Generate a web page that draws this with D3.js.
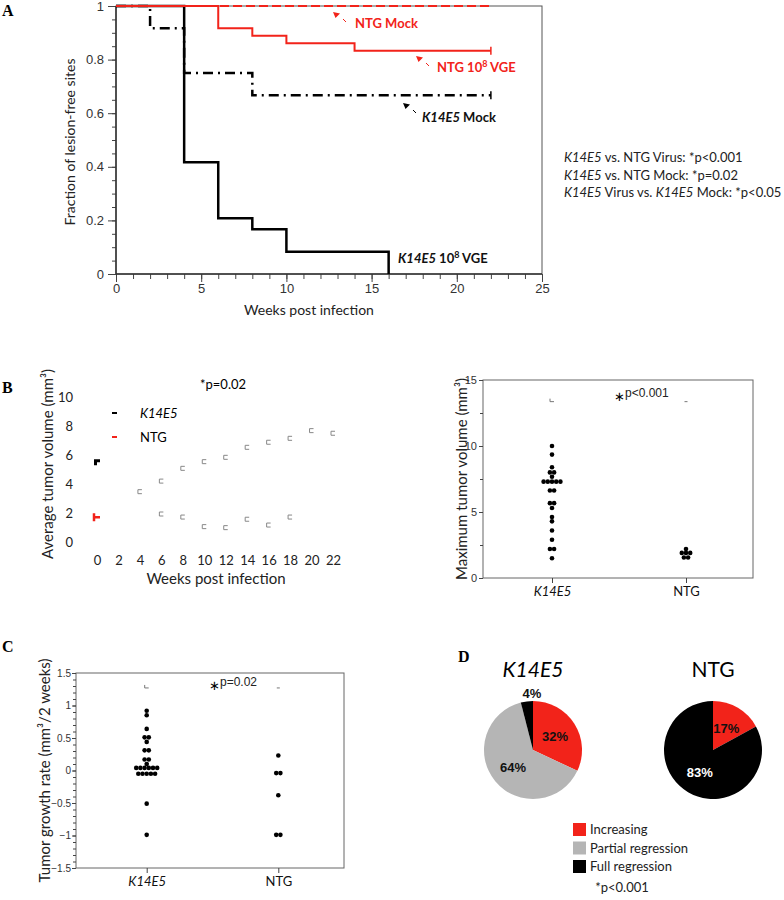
<!DOCTYPE html>
<html>
<head>
<meta charset="utf-8">
<script src="https://cdn.jsdelivr.net/npm/d3@7"></script>
<style>
  body { margin: 0; background: #fff; }
  svg { display: block; font-family: Lato, "Open Sans", sans-serif; }
</style>
</head>
<body>
<svg id="chart" width="784" height="900"></svg>
<script>
// ---- data ----
// A: Kaplan-Meier steps [week, fraction]
const k14e5VgeSteps = [[0, 1], [4, 0.417], [6, 0.208], [8, 0.167], [10, 0.083], [16, 0]];
const k14e5MockSteps = [[0, 1], [2, 0.917], [4, 0.75], [8, 0.667], [22, 0.667]];
const ntgVgeSteps = [[0, 1], [6, 0.917], [8, 0.889], [10, 0.861], [14, 0.833], [22, 0.833]];
const ntgMockSteps = [[0, 1], [22, 1]];
const weekTicksA = [0, 5, 10, 15, 20, 25];
const fracTicksA = [0, 0.2, 0.4, 0.6, 0.8, 1];

// B left: average tumour volume
const weekTicksB = [0, 2, 4, 6, 8, 10, 12, 14, 16, 18, 20, 22];
const volTicksB = [0, 2, 4, 6, 8, 10];
const k14e5AvgWeeks = [4, 6, 8, 10, 12, 14, 16, 18, 20, 22];
const k14e5AvgVol = [3.47, 4.2, 5.08, 5.54, 5.84, 6.53, 6.88, 7.15, 7.68, 7.5];
const ntgAvgWeeks = [6, 8, 10, 12, 14, 16, 18];
const ntgAvgVol = [1.93, 1.72, 1.06, 0.99, 1.57, 1.17, 1.72];
const k14e5StartVol = 5.5;
const ntgStartVol = 1.7;

// B right: maximum tumour volume
const groups = ["K14E5", "NTG"];
const maxVolK14E5 = [10.0, 9.35, 8.39, 8.0, 8.0, 7.67, 7.3, 7.3, 7.3, 7.3, 7.3, 6.63, 6.63,
  5.67, 5.67, 5.3, 4.62, 4.29, 3.6, 2.9, 2.2, 2.2, 1.5];
const maxVolNTG = [2.2, 1.9, 1.9, 1.9, 1.55, 1.55];
const maxVolRef = 13.36;

// C: tumour growth rate
const growthK14E5 = [0.92, 0.85, 0.64, 0.51, 0.51, 0.44, 0.31, 0.31, 0.17, 0.17, 0.10,
  0.04, 0.04, 0.04, 0.04, 0.04, 0.04, -0.05, -0.05, -0.05, -0.05, -0.05, -0.51, -0.99];
const growthNTG = [0.23, -0.04, -0.04, -0.38, -0.99, -0.99];
const growthRef = 1.27;

// D: outcome pies
const outcomes = ["Increasing", "Partial regression", "Full regression"];
const k14e5Outcome = [32, 64, 4];
const ntgOutcome = [17, 0, 83];

const RED = "#f2231a";
const svg = d3.select("#chart");
const tickFont = "'Liberation Sans', Arial, sans-serif";

function styleAxis(g, size) {
  g.select(".domain").remove();
  g.selectAll("line").attr("stroke", "#444");
  g.selectAll("text").attr("fill", "#333")
    .style("font-family", tickFont).style("font-size", size + "px");
}

function panelLabel(txt, x, y) {
  svg.append("text").attr("x", x).attr("y", y).text(txt)
    .style("font-family", "'Liberation Serif', serif").style("font-weight", "bold")
    .style("font-size", "16px");
}

// ================= A =================
const xA = d3.scaleLinear().domain([0, 25]).range([116, 542]);
const yA = d3.scaleLinear().domain([0, 1]).range([274, 6]);
const gA = svg.append("g");

gA.append("rect").attr("x", xA(0)).attr("y", yA(1))
  .attr("width", xA(25) - xA(0)).attr("height", yA(0) - yA(1))
  .attr("fill", "none").attr("stroke", "#555");

gA.append("g").attr("transform", `translate(${xA(0)},0)`)
  .call(d3.axisLeft(yA).tickValues(d3.range(0, 21).map(i => i / 20)).tickSize(4).tickFormat(""))
  .call(styleAxis, 13);
gA.append("g").attr("transform", `translate(${xA(0)},0)`)
  .call(d3.axisLeft(yA).tickValues(fracTicksA).tickSize(8).tickPadding(4).tickFormat(d3.format("~g")))
  .call(styleAxis, 13);
gA.append("g").attr("transform", `translate(0,${yA(0)})`)
  .call(d3.axisBottom(xA).tickValues(d3.range(0, 26)).tickSize(5).tickFormat(""))
  .call(styleAxis, 13);
gA.append("g").attr("transform", `translate(0,${yA(0)})`)
  .call(d3.axisBottom(xA).tickValues(weekTicksA).tickSize(8).tickPadding(2))
  .call(styleAxis, 13);
gA.append("line").attr("x1", xA(0)).attr("x2", xA(0)).attr("y1", yA(0)).attr("y2", yA(1))
  .attr("stroke", "#333").attr("stroke-width", 1.5);
gA.append("line").attr("x1", xA(0)).attr("x2", xA(25)).attr("y1", yA(0)).attr("y2", yA(0))
  .attr("stroke", "#333").attr("stroke-width", 1.5);

const stepLine = d3.line().x(d => xA(d[0])).y(d => yA(d[1])).curve(d3.curveStepAfter);
gA.append("path").attr("d", stepLine(k14e5MockSteps)).attr("fill", "none")
  .attr("stroke", "#000").attr("stroke-width", 2.5).attr("stroke-dasharray", "10,5,2,5");
gA.append("path").attr("d", stepLine(k14e5VgeSteps)).attr("fill", "none")
  .attr("stroke", "#000").attr("stroke-width", 2.5);
gA.append("path").attr("d", stepLine(ntgMockSteps)).attr("fill", "none")
  .attr("stroke", RED).attr("stroke-width", 2).attr("stroke-dasharray", "9,4");
gA.append("path").attr("d", stepLine(ntgVgeSteps)).attr("fill", "none")
  .attr("stroke", RED).attr("stroke-width", 2);
// censor ticks at the end of follow-up
[[ntgVgeSteps, RED], [k14e5MockSteps, "#000"]].forEach(([s, c]) => {
  const last = s[s.length - 1];
  gA.append("line").attr("x1", xA(last[0])).attr("x2", xA(last[0]))
    .attr("y1", yA(last[1]) - 4).attr("y2", yA(last[1]) + 4)
    .attr("stroke", c).attr("stroke-width", 1.5);
});

// arrows + labels
function arrow(tipX, tipY, color) {
  gA.append("path")
    .attr("d", `M${tipX},${tipY} l7,1.5 l-4.5,4.5 z`).attr("fill", color);
  gA.append("line").attr("x1", tipX + 10).attr("y1", tipY + 7).attr("x2", tipX + 13).attr("y2", tipY + 10)
    .attr("stroke", color).attr("stroke-width", 1);
}
arrow(333, 12, RED);
arrow(416, 56, RED);
arrow(403, 103, "#000");

gA.append("text").attr("x", 355).attr("y", 28).attr("fill", RED)
  .style("font-weight", "bold").style("font-size", "13px").text("NTG Mock");
const tNtg = gA.append("text").attr("x", 437).attr("y", 72).attr("fill", RED)
  .style("font-weight", "bold").style("font-size", "13px");
tNtg.append("tspan").text("NTG 10");
tNtg.append("tspan").attr("dy", -5).style("font-size", "9px").text("8");
tNtg.append("tspan").attr("dy", 5).text(" VGE");
const tMock = gA.append("text").attr("x", 422).attr("y", 122).attr("fill", "#111")
  .style("font-weight", "bold").style("font-size", "13px");
tMock.append("tspan").style("font-style", "italic").text("K14E5");
tMock.append("tspan").text(" Mock");
const tVge = gA.append("text").attr("x", 398).attr("y", 263).attr("fill", "#111")
  .style("font-weight", "bold").style("font-size", "13px");
tVge.append("tspan").style("font-style", "italic").text("K14E5");
tVge.append("tspan").text(" 10");
tVge.append("tspan").attr("dy", -5).style("font-size", "9px").text("8");
tVge.append("tspan").attr("dy", 5).text(" VGE");

gA.append("text").attr("transform", `translate(75,${(yA(0) + yA(1)) / 2 + 2}) rotate(-90)`)
  .attr("text-anchor", "middle").style("font-size", "14px").attr("fill", "#222")
  .text("Fraction of lesion-free sites");
gA.append("text").attr("x", 309).attr("y", 315).attr("text-anchor", "middle")
  .style("font-size", "14px").attr("fill", "#222").text("Weeks post infection");

const stats = [
  [["K14E5", true], [" vs. NTG Virus: *p<0.001", false]],
  [["K14E5", true], [" vs. NTG Mock: *p=0.02", false]],
  [["K14E5", true], [" Virus vs. ", false], ["K14E5", true], [" Mock: *p<0.05", false]]
];
stats.forEach((parts, i) => {
  const t = svg.append("text").attr("x", 564).attr("y", 162 + i * 17.5)
    .style("font-size", "13px").attr("fill", "#222");
  parts.forEach(p => t.append("tspan").style("font-style", p[1] ? "italic" : "normal").text(p[0]));
});
panelLabel("A", 2, 16);

// ================= B left =================
const xB = d3.scaleLinear().domain([0, 22]).range([97, 333]);
const yB = d3.scaleLinear().domain([0, 10]).range([542, 397]);
const gB = svg.append("g");
gB.append("g").attr("transform", "translate(78,0)")
  .call(d3.axisLeft(yB).tickValues(volTicksB).tickSize(0).tickPadding(5))
  .call(styleAxis, 13);
gB.append("g").attr("transform", "translate(0,553)")
  .call(d3.axisBottom(xB).tickValues(weekTicksB).tickSize(0).tickPadding(3))
  .call(styleAxis, 13);
gB.selectAll(".tick text").style("font-family", "Lato, sans-serif").attr("fill", "#222");

function bracket(g, x, y) {
  g.append("path").attr("d", `M${x + 2},${y - 2} h-4 v4 h4`)
    .attr("fill", "none").attr("stroke", "#888").attr("stroke-width", 1);
}
k14e5AvgWeeks.forEach((w, i) => bracket(gB, xB(w), yB(k14e5AvgVol[i])));
ntgAvgWeeks.forEach((w, i) => bracket(gB, xB(w), yB(ntgAvgVol[i])));

// week-0 starting means
gB.append("path")
  .attr("d", `M${xB(0) - 3},${yB(k14e5StartVol) - 3} h6 v3 h-3 v3 h-3 z`)
  .attr("fill", "#000");
gB.append("path")
  .attr("d", `M${xB(0) - 3},${yB(ntgStartVol) - 4} v8 M${xB(0) - 3},${yB(ntgStartVol)} h6`)
  .attr("fill", "none").attr("stroke", RED).attr("stroke-width", 2.5);

// legend
gB.append("line").attr("x1", 112).attr("x2", 117).attr("y1", 413).attr("y2", 413)
  .attr("stroke", "#000").attr("stroke-width", 2);
gB.append("line").attr("x1", 112).attr("x2", 117).attr("y1", 437).attr("y2", 437)
  .attr("stroke", RED).attr("stroke-width", 2);
gB.append("text").attr("x", 140).attr("y", 418).style("font-style", "italic")
  .style("font-size", "13px").text("K14E5");
gB.append("text").attr("x", 140).attr("y", 442).style("font-size", "13px").text("NTG");
gB.append("text").attr("x", 200).attr("y", 389).style("font-size", "13px").text("*p=0.02");

gB.append("text").attr("transform", "translate(53,464) rotate(-90)")
  .attr("text-anchor", "middle").style("font-size", "15px").attr("fill", "#222")
  .text("Average tumor volume (mm³)");
gB.append("text").attr("x", 216).attr("y", 584).attr("text-anchor", "middle")
  .style("font-size", "15px").attr("fill", "#222").text("Weeks post infection");
panelLabel("B", 2, 393);

// ---- beeswarm helper ----
function swarm(values, step) {
  const out = [];
  d3.group(values, v => v).forEach((arr, v) => {
    arr.forEach((_, i) => out.push({ v, dx: (i - (arr.length - 1) / 2) * step }));
  });
  return out;
}

function dotPanel(cfg) {
  const g = svg.append("g");
  const x = d3.scalePoint().domain(groups).range(cfg.xRange);
  const y = d3.scaleLinear().domain(cfg.yDomain).range(cfg.yRange);
  const [x0, x1] = cfg.box;
  g.append("rect").attr("x", x0).attr("y", cfg.yRange[1]).attr("width", x1 - x0)
    .attr("height", cfg.yRange[0] - cfg.yRange[1]).attr("fill", "none").attr("stroke", "#666");
  g.append("g").attr("transform", `translate(${x0},0)`)
    .call(d3.axisLeft(y).tickValues(cfg.minor).tickSize(3).tickFormat(""))
    .call(styleAxis, cfg.tickSize);
  g.append("g").attr("transform", `translate(${x0},0)`)
    .call(d3.axisLeft(y).tickValues(cfg.major).tickSize(4).tickPadding(cfg.pad).tickFormat(d3.format("~g")))
    .call(styleAxis, cfg.tickSize);
  const xa = g.append("g").attr("transform", `translate(0,${cfg.yRange[0]})`)
    .call(d3.axisBottom(x).tickSize(5).tickPadding(4))
    .call(styleAxis, 13);
  xa.selectAll("text").style("font-family", "Lato, sans-serif").attr("fill", "#111")
    .style("font-style", d => d === "K14E5" ? "italic" : "normal");
  cfg.series.forEach((vals, i) => {
    const cx = x(groups[i]);
    g.selectAll(null).data(swarm(vals, 4.2)).join("circle")
      .attr("cx", d => cx + d.dx).attr("cy", d => y(d.v)).attr("r", 2.3).attr("fill", "#000");
  });
  // small reference marks above each column
  const ry = y(cfg.ref);
  g.append("path").attr("d", `M${x("K14E5") - 2},${ry - 3} v3 h4`)
    .attr("fill", "none").attr("stroke", "#777");
  g.append("line").attr("x1", x("NTG") - 1.5).attr("x2", x("NTG") + 1.5).attr("y1", ry).attr("y2", ry)
    .attr("stroke", "#777");
  g.append("text").attr("x", cfg.star[0]).attr("y", cfg.star[1] + 4).style("font-size", "13px")
    .style("font-family", tickFont).text("∗");
  g.append("text").attr("x", cfg.star[0] + 11).attr("y", cfg.star[1]).style("font-size", "12px")
    .style("font-family", tickFont).attr("fill", "#222").text(cfg.pText);
  g.append("text").attr("transform", `translate(${cfg.yLabelX},${(cfg.yRange[0] + cfg.yRange[1]) / 2}) rotate(-90)`)
    .attr("text-anchor", "middle").style("font-size", "15px").attr("fill", "#222").text(cfg.yLabel);
}

// ================= B right =================
dotPanel({
  box: [483, 753], xRange: [552, 686], yDomain: [0, 15], yRange: [578, 380],
  major: [0, 5, 10, 15], minor: d3.range(0, 7).map(i => i * 2.5), pad: 2, tickSize: 11,
  series: [maxVolK14E5, maxVolNTG], ref: maxVolRef,
  star: [614, 397], pText: "p<0.001",
  yLabel: "Maximum tumor volume (mm³)", yLabelX: 467
});

// ================= C =================
dotPanel({
  box: [76, 344], xRange: [146.7, 278.3], yDomain: [-1.5, 1.5], yRange: [868, 673],
  major: [-1.5, -1, -0.5, 0, 0.5, 1, 1.5], minor: d3.range(-15, 16).map(i => i / 10), pad: 1, tickSize: 10,
  series: [growthK14E5, growthNTG], ref: growthRef,
  star: [209, 686], pText: "p=0.02",
  yLabel: "Tumor growth rate (mm³/2 weeks)", yLabelX: 50
});
panelLabel("C", 2, 652);

// ================= D =================
const color = d3.scaleOrdinal().domain(outcomes).range([RED, "#b5b5b5", "#000"]);
const pie = d3.pie().sort(null);
const arc = d3.arc().innerRadius(0).outerRadius(49);
const inLabel = d3.arc().innerRadius(26).outerRadius(26);
const outLabel = d3.arc().innerRadius(57).outerRadius(57);

[[k14e5Outcome, 533, "K14E5", true], [ntgOutcome, 713, "NTG", false]].forEach(([vals, cx, title, ital]) => {
  const g = svg.append("g").attr("transform", `translate(${cx},750)`);
  const arcs = pie(vals);
  g.selectAll("path").data(arcs).join("path")
    .attr("d", arc).attr("fill", (d, i) => color(outcomes[i]));
  arcs.forEach((d, i) => {
    if (!d.value) return;
    const small = d.value < 8;
    const [lx, ly] = (small ? outLabel : inLabel).centroid(d);
    g.append("text").attr("x", small ? lx + 6 : lx).attr("y", ly + 5).attr("text-anchor", "middle")
      .style("font-family", tickFont).style("font-weight", "bold").style("font-size", "13px")
      .attr("fill", !small && outcomes[i] === "Full regression" ? "#fff" : "#111")
      .text(d.value + "%");
  });
  g.append("text").attr("y", -73).attr("text-anchor", "middle")
    .style("font-size", "21px").style("font-style", ital ? "italic" : "normal").text(title);
});

const leg = svg.append("g").attr("transform", "translate(573,823)");
outcomes.forEach((o, i) => {
  leg.append("rect").attr("x", 0).attr("y", i * 18.5).attr("width", 13).attr("height", 13).attr("fill", color(o));
  leg.append("text").attr("x", 17).attr("y", i * 18.5 + 11).style("font-size", "13px").attr("fill", "#222").text(o);
});
svg.append("text").attr("x", 622).attr("y", 892).attr("text-anchor", "middle")
  .style("font-size", "13px").attr("fill", "#222").text("*p<0.001");
panelLabel("D", 458, 662);
</script>
</body>
</html>
